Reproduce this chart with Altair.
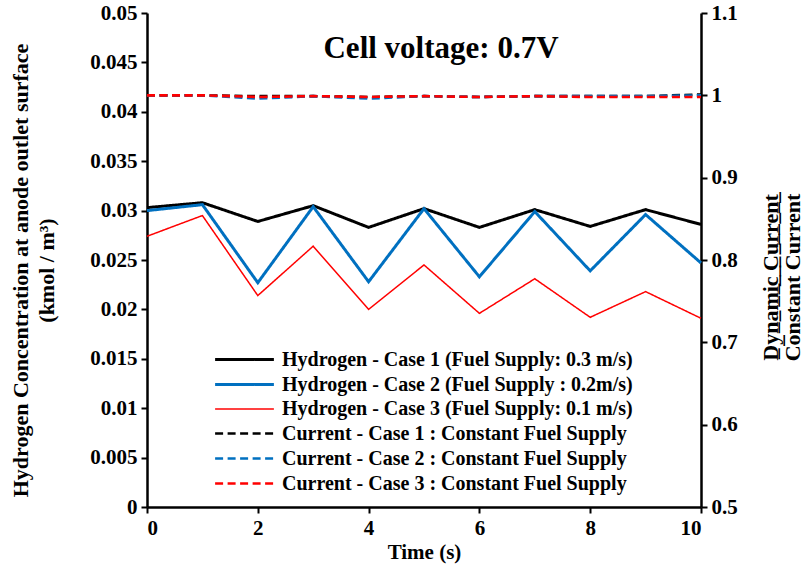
import altair as alt
import pandas as pd

# Time axis (s)
time_s = list(range(11))

# Hydrogen concentration at the anode outlet surface (kmol / m3)
h2_case1 = [0.0303, 0.0308, 0.0289, 0.0305, 0.0283, 0.0302, 0.0283, 0.0301, 0.0284, 0.0301, 0.0286]
h2_case2 = [0.0300, 0.0306, 0.0227, 0.0304, 0.0228, 0.0302, 0.0233, 0.0299, 0.0239, 0.0296, 0.0247]
h2_case3 = [0.0274, 0.0295, 0.0214, 0.0264, 0.0200, 0.0245, 0.0196, 0.0231, 0.0192, 0.0218, 0.0191]

# Dynamic current / constant current ratio
cur_case1 = [1.000, 1.000, 0.999, 0.999, 0.998, 0.999, 0.998, 0.999, 0.999, 0.999, 1.001]
cur_case2 = [1.000, 1.000, 0.996, 0.999, 0.996, 0.999, 0.998, 0.999, 0.999, 0.999, 1.000]
cur_case3 = [1.000, 1.000, 0.998, 0.999, 0.998, 0.999, 0.998, 0.999, 0.998, 0.998, 0.998]

h2_names = [
    "Hydrogen - Case 1 (Fuel Supply: 0.3 m/s)",
    "Hydrogen - Case 2 (Fuel Supply : 0.2m/s)",
    "Hydrogen - Case 3 (Fuel Supply: 0.1 m/s)",
]
cur_names = [
    "Current - Case 1 : Constant Fuel Supply",
    "Current - Case 2 : Constant Fuel Supply",
    "Current - Case 3 : Constant Fuel Supply",
]
series_order = h2_names + cur_names
series_colors = ["#000000", "#0070C0", "#FF0000", "#000000", "#0070C0", "#FF0000"]
series_dash = [[1, 0], [1, 0], [1, 0], [8, 4.5], [8, 4.5], [8, 4.5]]
series_width = [3, 3, 1.5, 2.6, 2.6, 2.6]

chart_title = ["Cell voltage: 0.7V"]

h2_rows = []
for name, vals in zip(h2_names, [h2_case1, h2_case2, h2_case3]):
    for t, v in zip(time_s, vals):
        h2_rows.append({"time": t, "value": v, "series": name})
cur_rows = []
for name, vals in zip(cur_names, [cur_case1, cur_case2, cur_case3]):
    for t, v in zip(time_s, vals):
        cur_rows.append({"time": t, "value": v, "series": name})

h2_df = pd.DataFrame(h2_rows)
cur_df = pd.DataFrame(cur_rows)
title_df = pd.DataFrame({"label": chart_title})

FONT = "Liberation Serif"

x_enc = alt.X(
    "time:Q",
    scale=alt.Scale(domain=[0, 10], nice=False),
    axis=alt.Axis(
        values=[0, 2, 4, 6, 8, 10],
        title="Time (s)",
        titleFontSize=21,
        titlePadding=3,
    ),
)

# Long horizontal line symbol; its height stays small so rows pack tightly
legend = alt.Legend(
    orient="none",
    legendX=86,
    legendY=335,
    title=None,
    symbolType="M-3,0H3",
    symbolSize=384,
    labelFont=FONT,
    labelFontSize=20,
    labelFontWeight="bold",
    labelColor="#000000",
    labelOffset=26,
    rowPadding=3,
    padding=0,
    labelLimit=600,
)

color_enc = alt.Color(
    "series:N",
    scale=alt.Scale(domain=series_order, range=series_colors),
    sort=series_order,
    legend=legend,
)
dash_enc = alt.StrokeDash(
    "series:N",
    scale=alt.Scale(domain=series_order, range=series_dash),
    sort=series_order,
    legend=legend,
)
width_enc = alt.StrokeWidth(
    "series:N",
    scale=alt.Scale(type="ordinal", domain=series_order, range=series_width),
    sort=series_order,
    legend=legend,
)

hydrogen = alt.Chart(h2_df).mark_line().encode(
    x=x_enc,
    y=alt.Y(
        "value:Q",
        scale=alt.Scale(domain=[0, 0.05], nice=False, zero=False),
        axis=alt.Axis(
            orient="left",
            values=[i * 0.005 for i in range(11)],
            format=".3~f",
            title=["Hydrogen Concentration at anode outlet surface", "(kmol / m³)"],
            titleFontSize=22,
            titleLineHeight=26,
            titleAngle=270,
            titleX=-137,
            titleY=257,
            titleBaseline="top",
            titleAlign="center",
        ),
    ),
    color=color_enc,
    strokeDash=dash_enc,
    strokeWidth=width_enc,
    order=alt.Order("time:Q"),
)

current = alt.Chart(cur_df).mark_line().encode(
    x=x_enc,
    y=alt.Y(
        "value:Q",
        scale=alt.Scale(domain=[0.5, 1.1], nice=False, zero=False),
        axis=alt.Axis(
            orient="right",
            values=[0.5, 0.6, 0.7, 0.8, 0.9, 1.0, 1.1],
            format=".1~f",
            title=["D̲y̲n̲a̲m̲i̲c̲ ̲C̲u̲r̲r̲e̲n̲t̲", "Constant Current"],
            titleFontSize=22,
            titleLineHeight=22,
            titleAngle=270,
            titleX=59,
            titleY=264,
            titleBaseline="top",
            titleAlign="center",
        ),
    ),
    color=color_enc,
    strokeDash=dash_enc,
    strokeWidth=width_enc,
    order=alt.Order("time:Q"),
)

# Panel heading written inside the plot area
heading = alt.Chart(title_df).mark_text(
    font=FONT,
    fontSize=31,
    fontWeight="bold",
    color="#000000",
    align="center",
    baseline="alphabetic",
).encode(
    text="label:N",
    x=alt.value(294),
    y=alt.value(45),
)

chart = (
    alt.layer(hydrogen, current, heading)
    .resolve_scale(y="independent")
    .properties(
        width=554,
        height=494,
        autosize=alt.AutoSizeParams(type="none"),
        padding={"left": 147, "top": 13, "right": 107, "bottom": 64},
    )
    .configure_view(stroke=None)
    .configure_axis(
        labelFont=FONT,
        labelFontSize=21,
        labelFontWeight="bold",
        labelColor="#000000",
        titleFont=FONT,
        titleFontWeight="bold",
        titleColor="#000000",
        domainColor="#000000",
        domainWidth=2.5,
        tickColor="#000000",
        tickWidth=2,
        tickSize=6,
        grid=False,
        labelPadding=4,
    )
)

chart.save("out.html", embed_options={"renderer": "svg", "actions": False})
